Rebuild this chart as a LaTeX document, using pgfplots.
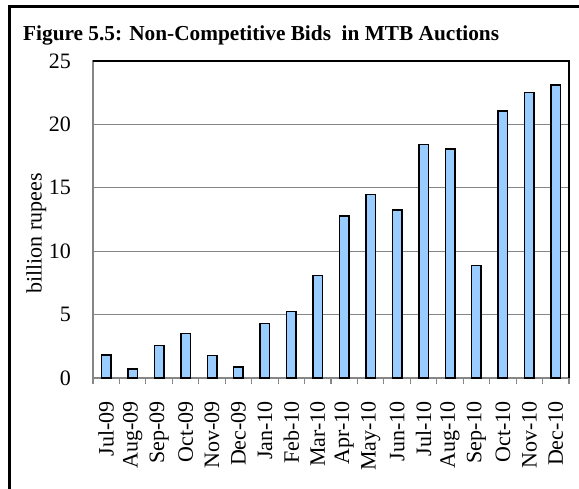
\documentclass[border=0pt]{standalone}
\usepackage{fontspec}
\setmainfont{Liberation Serif}
\usepackage{pgfplots}
\pgfplotsset{compat=1.18}
\definecolor{barblue}{RGB}{153,204,255}
\definecolor{gridgray}{RGB}{134,134,134}
\begin{document}
\begin{tikzpicture}[x=1pt,y=1pt]
\useasboundingbox (0,0) rectangle (579,488);
\draw[line width=2.7pt] (9.7,-5) -- (9.7,481.5) -- (590,481.5);
\node[anchor=base west, font=\bfseries\fontsize{21.3}{24}\selectfont, inner sep=0pt] at (23,447.3) {Figure 5.5: Non-Competitive Bids\ \ in MTB Auctions};
\begin{axis}[
  at={(93pt,110pt)}, anchor=south west, scale only axis,
  width=476pt, height=317pt,
  ymin=0, ymax=25, ytick={0,5,10,15,20,25},
  xmin=-0.5, xmax=17.5,
  xtick={0,...,17},
  xticklabels={Jul-09,Aug-09,Sep-09,Oct-09,Nov-09,Dec-09,Jan-10,Feb-10,Mar-10,Apr-10,May-10,Jun-10,Jul-10,Aug-10,Sep-10,Oct-10,Nov-10,Dec-10},
  minor xtick={-0.5,0.5,...,17.5},
  major tick length=0pt, minor tick length=6pt, tick align=outside,
  xtick pos=bottom, ytick pos=left,
  tick style={gridgray, line width=1.2pt},
  ymajorgrids, grid style={gridgray, line width=1.3pt},
  axis line style={gridgray, line width=1.3pt},
  ticklabel style={font=\fontsize{22}{24}\selectfont},
  /pgf/number format/assume math mode=true,
  xticklabel style={rotate=90, anchor=east, inner xsep=23pt},
  yticklabel style={inner xsep=0pt, xshift=-22pt},
  clip=false,
]
\addplot[ybar, bar width=9.5pt, fill=barblue, draw=black, line width=1.5pt] coordinates {
(0,1.8) (1,0.7) (2,2.57) (3,3.52) (4,1.79) (5,0.87) (6,4.31) (7,5.23) (8,8.07)
(9,12.78) (10,14.49) (11,13.25) (12,18.4) (13,18.06) (14,8.86) (15,21.06) (16,22.53) (17,23.1)
};
\draw[black, line width=1.5pt] (rel axis cs:0,1) -- (rel axis cs:1,1) -- (rel axis cs:1,0);
\end{axis}
\node[rotate=90, anchor=base, inner sep=0pt, font=\fontsize{22}{24}\selectfont] at (41.5,254.5) {billion rupees};
\end{tikzpicture}
\end{document}
